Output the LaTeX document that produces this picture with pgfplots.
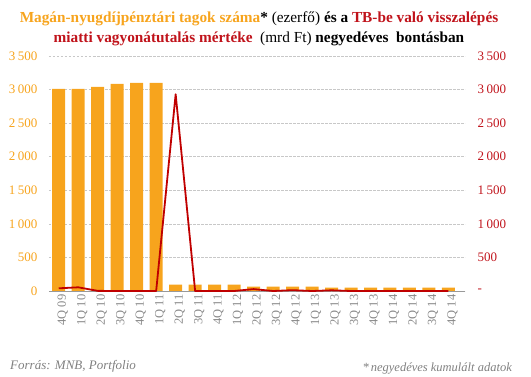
\documentclass[border=0pt]{standalone}
\usepackage{pgfplots}
\pgfplotsset{compat=1.18}
\usepackage{fontspec}
\setmainfont{Liberation Serif}
\definecolor{barorange}{HTML}{F7A41D}
\definecolor{linered}{HTML}{C00000}
\definecolor{titlered}{HTML}{C0131B}
\definecolor{gridgray}{HTML}{C8C8C8}
\definecolor{footgray}{HTML}{808080}
\definecolor{xgray}{HTML}{8A8A8A}
\newcommand{\ts}{\hspace{2.5pt}}
\begin{document}
\begin{tikzpicture}[x=1pt,y=1pt]
\useasboundingbox (0,0) rectangle (531,377);
\begin{axis}[
  at={(49pt,86pt)}, anchor=south west, scale only axis,
  width=416pt, height=235pt,
  xmin=-0.5, xmax=20.85, ymin=0, ymax=3500,
  axis line style={draw=none},
  major tick length=0pt,
  ymajorgrids, grid style={gridgray, dash pattern=on 2.5pt off 1.5pt, line width=0.6pt},
  ytick={0,500,1000,1500,2000,2500,3000,3500},
  yticklabels={0,500,1\ts000,1\ts500,2\ts000,2\ts500,3\ts000,3\ts500},
  yticklabel style={text=barorange, font=\fontsize{13}{13}\selectfont, xshift=-8pt},
  xtick={0,...,20},
  xticklabels={4Q 09,1Q 10,2Q 10,3Q 10,4Q 10,1Q 11,2Q 11,3Q 11,4Q 11,1Q 12,2Q 12,3Q 12,4Q 12,1Q 13,2Q 13,3Q 13,4Q 13,1Q 14,2Q 14,3Q 14,4Q 14},
  xticklabel style={rotate=90, anchor=east, text=xgray, font=\fontsize{12.5}{12.5}\selectfont, yshift=-4pt},
  ytick pos=left, xtick pos=bottom,
  clip=false,
]
\addplot[ybar, bar width=13pt, fill=barorange, draw=none] coordinates {
(0,3010) (1,3010) (2,3040) (3,3085) (4,3100) (5,3100) (6,94) (7,94) (8,94) (9,94)
(10,64) (11,64) (12,64) (13,64) (14,50) (15,50) (16,50) (17,50) (18,50) (19,50) (20,50)};
\draw[gray!80, line width=0.8pt] (axis cs:-0.5,0) -- (axis cs:20.85,0);
\end{axis}
\begin{axis}[
  at={(49pt,86pt)}, anchor=south west, scale only axis,
  width=416pt, height=235pt,
  xmin=-0.5, xmax=20.85, ymin=0, ymax=3500,
  axis line style={draw=none},
  major tick length=0pt,
  ytick={0,500,1000,1500,2000,2500,3000,3500},
  yticklabels={-,500,1\ts000,1\ts500,2\ts000,2\ts500,3\ts000,3\ts500},
  yticklabel style={text=titlered, font=\fontsize{13}{13}\selectfont, xshift=9pt},
  ytick pos=right, yticklabel pos=right,
  xtick=\empty,
  clip=false,
]
\addplot[linered, line width=1.8pt, line join=round] coordinates {
(0,40) (1,55) (2,2) (3,0) (4,0) (5,0) (6,2930) (7,0) (8,0) (9,0)
(10,28) (11,0) (12,12) (13,0) (14,10) (15,0) (16,0) (17,0) (18,0) (19,0) (20,0)};
\end{axis}
\node[anchor=base, inner sep=0] at (259,354) {\fontsize{15.3}{15.3}\selectfont\textbf{\textcolor{barorange}{Magán-nyugdíjpénztári tagok száma}*} (ezerfő) \textbf{és a \textcolor{titlered}{TB-be való visszalépés}}};
\node[anchor=base, inner sep=0] at (259,334) {\fontsize{15.3}{15.3}\selectfont\textbf{\textcolor{titlered}{miatti vagyonátutalás mértéke}} \ (mrd Ft) \textbf{negyedéves \ bontásban}};
\node[anchor=base west, inner sep=0, text=footgray] at (10,7) {\fontsize{13}{13}\selectfont\itshape Forrás: MNB, Portfolio};
\node[anchor=base east, inner sep=0, text=footgray] at (512,5) {\fontsize{12.5}{12.5}\selectfont\itshape *\,negyedéves kumulált adatok};
\end{tikzpicture}
\end{document}
